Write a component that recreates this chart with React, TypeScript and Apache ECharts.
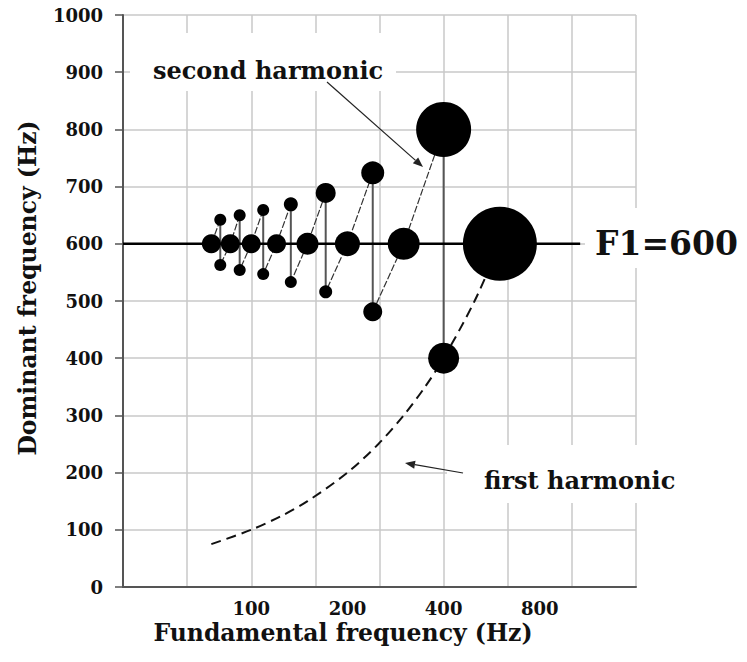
import React, { useEffect, useRef } from "react";
import * as echarts from "echarts";

// Fundamentals (Hz) at which harmonic k = 1..8 lands exactly on F1
const centreF0 = [600, 300, 200, 150, 120, 100, 86, 75];
const centreHz = [600, 600, 600, 600, 600, 600, 600, 600];
const centreWeight = [74, 32, 25, 22, 19, 19, 19, 19];

// Fundamentals lying between two harmonics: lower harmonic n, upper harmonic n + 1
const pairF0 = [400, 240, 171, 133, 109, 92, 80];
const pairLowHz = [400, 481, 516, 533, 547, 554, 563];
const pairHighHz = [800, 724, 689, 669, 659, 650, 642];
const pairLowWeight = [31, 19, 13, 12, 12, 12, 12];
const pairHighWeight = [55, 23, 20, 14, 12, 12, 12];

// First harmonic: the dominant frequency equals the fundamental
const firstHarmF0 = [75, 100, 125, 150, 200, 250, 300, 350, 400, 500, 600];
const firstHarmHz = [75, 100, 125, 150, 200, 250, 300, 350, 400, 500, 600];

const F1 = 600;
const f1LineEndHz = 1070;

const xTickHz = [100, 200, 400, 800];

// Horizontal axis is logarithmic: one grid step = 2/3 octave, 100 Hz at 0
const REF_HZ = 100;
const STEP_OCT = 2 / 3;
const toAxis = (hz: number) => Math.log2(hz / REF_HZ) / STEP_OCT;
const fromAxis = (u: number) => REF_HZ * Math.pow(2, u * STEP_OCT);
const X_MIN = -2;
const X_MAX = 6;

const FONT = "DejaVu Serif";

function arrow(x1: number, y1: number, x2: number, y2: number) {
  const dx = x2 - x1;
  const dy = y2 - y1;
  const len = Math.hypot(dx, dy);
  const ux = dx / len;
  const uy = dy / len;
  const bx = x2 - ux * 10;
  const by = y2 - uy * 10;
  const px = -uy * 4;
  const py = ux * 4;
  return [
    {
      type: "line",
      z: 10,
      shape: { x1, y1, x2: bx, y2: by },
      style: { stroke: "#222", lineWidth: 1.2 },
    },
    {
      type: "polygon",
      z: 10,
      shape: {
        points: [
          [x2, y2],
          [bx + px, by + py],
          [bx - px, by - py],
        ],
      },
      style: { fill: "#222" },
    },
  ];
}

export default function App() {
  const ref = useRef<HTMLDivElement>(null);

  useEffect(() => {
    document.body.style.margin = "0";
    if (!ref.current) return;
    const chart = echarts.init(ref.current, null, { renderer: "svg" });

    const series: any[] = [];

    // F1 reference line
    series.push({
      type: "line",
      data: [
        [X_MIN, F1],
        [toAxis(f1LineEndHz), F1],
      ],
      symbol: "none",
      lineStyle: { color: "#000", width: 2.6 },
      z: 3,
    });

    // vertical connectors between the two harmonics straddling F1
    pairF0.forEach((f, i) => {
      series.push({
        type: "line",
        data: [
          [toAxis(f), pairLowHz[i]],
          [toAxis(f), pairHighHz[i]],
        ],
        symbol: "none",
        lineStyle: { color: "#555", width: 2 },
        z: 2,
      });
    });

    // harmonics 2..8 traced across the fundamentals
    for (let k = 2; k <= 8; k++) {
      const pts: number[][] = [];
      pts.push([toAxis(pairF0[k - 2]), pairHighHz[k - 2]]);
      pts.push([toAxis(centreF0[k - 1]), centreHz[k - 1]]);
      if (k - 1 < pairF0.length) {
        pts.push([toAxis(pairF0[k - 1]), pairLowHz[k - 1]]);
      }
      series.push({
        type: "line",
        data: pts,
        symbol: "none",
        lineStyle: { color: "#333", width: 1.2, type: [7, 2] },
        z: 2,
      });
    }

    // first harmonic
    series.push({
      type: "line",
      data: firstHarmF0.map((f, i) => [toAxis(f), firstHarmHz[i]]),
      symbol: "none",
      smooth: 0.3,
      lineStyle: { color: "#111", width: 2, type: [10, 6] },
      z: 2,
    });

    // dominant-frequency bubbles
    const bubbles: number[][] = [];
    centreF0.forEach((f, i) => bubbles.push([toAxis(f), centreHz[i], centreWeight[i]]));
    pairF0.forEach((f, i) => {
      bubbles.push([toAxis(f), pairLowHz[i], pairLowWeight[i]]);
      bubbles.push([toAxis(f), pairHighHz[i], pairHighWeight[i]]);
    });
    series.push({
      type: "scatter",
      data: bubbles,
      symbol: "circle",
      symbolSize: (v: number[]) => v[2],
      itemStyle: { color: "#000", opacity: 1 },
      z: 5,
    });

    const textStyle = (size: number) => ({
      fontFamily: FONT,
      fontWeight: "bold",
      fontSize: size,
      fill: "#111",
    });

    chart.setOption({
      animation: false,
      backgroundColor: "#fff",
      grid: { left: 123, right: 111, top: 15, bottom: 75, containLabel: false },
      xAxis: {
        type: "value",
        min: X_MIN,
        max: X_MAX,
        interval: 1,
        axisLine: { show: true, onZero: false, lineStyle: { color: "#555", width: 2 } },
        axisTick: { show: false },
        splitLine: { show: true, lineStyle: { color: "#c9c9c9", width: 1.5 } },
        axisLabel: {
          customValues: xTickHz.map(toAxis),
          formatter: (v: number) => String(Math.round(fromAxis(v))),
          fontFamily: FONT,
          fontWeight: "bold",
          fontSize: 18,
          color: "#111",
          margin: 12,
        },
      },
      yAxis: {
        type: "value",
        min: 0,
        max: 1000,
        interval: 100,
        axisLine: { show: true, onZero: false, lineStyle: { color: "#555", width: 2 } },
        axisTick: { show: true, length: 8, lineStyle: { color: "#555", width: 1.5 } },
        splitLine: { show: true, lineStyle: { color: "#c9c9c9", width: 1.5 } },
        axisLabel: {
          formatter: (v: number) => String(v),
          fontFamily: FONT,
          fontWeight: "bold",
          fontSize: 18,
          color: "#111",
          margin: 20,
        },
      },
      series,
      graphic: [
        // label boxes
        { type: "rect", z: 1, shape: { x: 130, y: 33, width: 266, height: 58 }, style: { fill: "#fff" } },
        { type: "rect", z: 1, shape: { x: 447, y: 445, width: 260, height: 58 }, style: { fill: "#fff" } },
        { type: "rect", z: 1, shape: { x: 585, y: 208, width: 162, height: 60 }, style: { fill: "#fff" } },
        {
          type: "text",
          z: 10,
          x: 268,
          y: 70,
          style: { ...textStyle(24), text: "second harmonic", align: "center", verticalAlign: "middle" },
        },
        {
          type: "text",
          z: 10,
          x: 484,
          y: 480,
          style: { ...textStyle(24), text: "first harmonic", align: "left", verticalAlign: "middle" },
        },
        {
          type: "text",
          z: 10,
          x: 595,
          y: 243,
          style: { ...textStyle(33), text: `F1=${F1}`, align: "left", verticalAlign: "middle" },
        },
        ...arrow(327, 82, 423, 167),
        ...arrow(463, 473, 405, 463),
        // axis titles
        {
          type: "text",
          z: 10,
          x: 343,
          y: 633,
          style: { ...textStyle(23.5), text: "Fundamental frequency (Hz)", align: "center", verticalAlign: "middle" },
        },
        {
          type: "text",
          z: 10,
          x: 28,
          y: 288,
          rotation: Math.PI / 2,
          style: { ...textStyle(23.5), text: "Dominant frequency (Hz)", align: "center", verticalAlign: "middle" },
        },
      ],
    });

    return () => chart.dispose();
  }, []);

  return <div ref={ref} style={{ width: 747, height: 662 }} />;
}
